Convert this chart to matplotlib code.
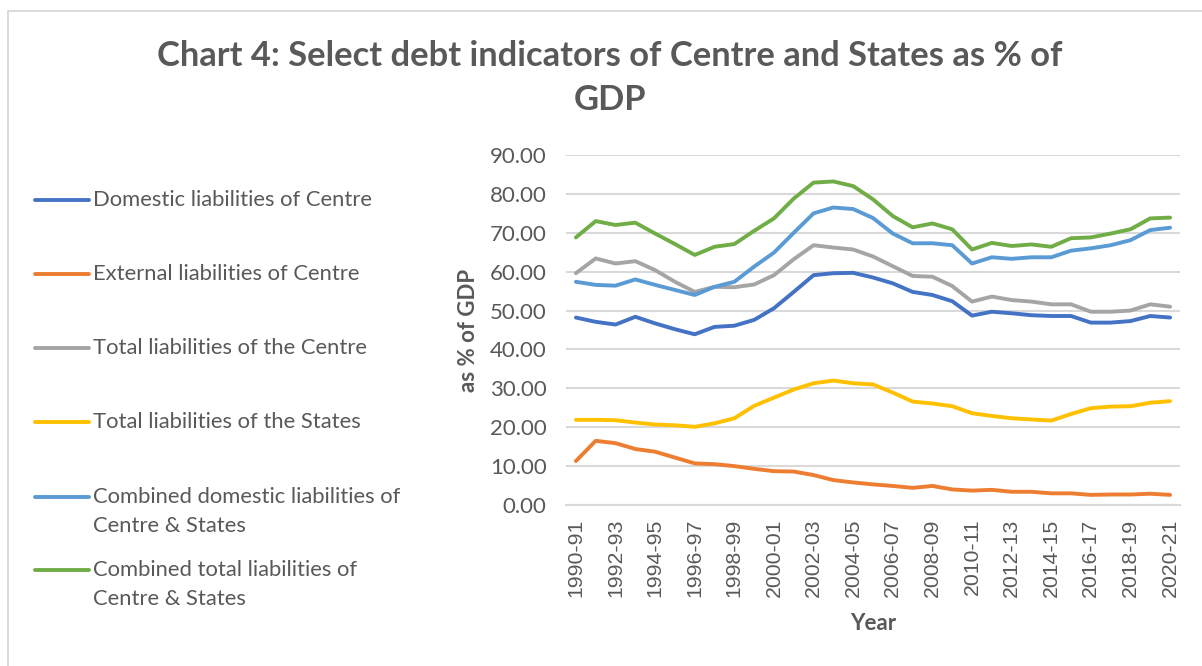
import numpy as np
import matplotlib
matplotlib.use("Agg")
import matplotlib.pyplot as plt
from matplotlib.lines import Line2D
from matplotlib.patches import Rectangle

plt.rcParams['font.family'] = ['Lato', 'DejaVu Sans']

years = [f"{y}-{str(y + 1)[-2:]}" for y in range(1990, 2021)]

domestic_centre = [48.2, 47.1, 46.4, 48.4, 46.7, 45.2, 43.9, 45.8, 46.1, 47.6,
                   50.6, 54.8, 59.1, 59.6, 59.7, 58.5, 57.0, 54.8, 54.0, 52.4,
                   48.7, 49.7, 49.3, 48.8, 48.6, 48.6, 46.9, 46.9, 47.3, 48.6, 48.2]
external_centre = [11.3, 16.5, 15.9, 14.4, 13.7, 12.2, 10.7, 10.5, 10.0, 9.3,
                   8.7, 8.6, 7.7, 6.4, 5.8, 5.3, 4.9, 4.4, 4.9, 4.0,
                   3.7, 3.9, 3.4, 3.4, 3.0, 3.0, 2.6, 2.7, 2.7, 2.9, 2.6]
total_centre = [59.6, 63.4, 62.1, 62.7, 60.4, 57.4, 54.8, 56.1, 56.0, 56.7,
                59.1, 63.2, 66.8, 66.2, 65.7, 63.9, 61.4, 58.9, 58.7, 56.3,
                52.3, 53.6, 52.7, 52.3, 51.6, 51.6, 49.7, 49.7, 50.0, 51.6, 51.0]
total_states = [21.9, 21.9, 21.8, 21.2, 20.7, 20.5, 20.1, 21.0, 22.3, 25.5,
                27.6, 29.7, 31.3, 32.0, 31.3, 31.0, 28.9, 26.6, 26.1, 25.4,
                23.6, 22.9, 22.3, 22.0, 21.7, 23.4, 24.9, 25.3, 25.4, 26.3, 26.7]
combined_domestic = [57.4, 56.6, 56.4, 58.0, 56.6, 55.3, 54.0, 56.1, 57.4, 61.3,
                     64.9, 70.0, 75.0, 76.5, 76.1, 73.8, 69.8, 67.3, 67.3, 66.8,
                     62.1, 63.7, 63.3, 63.7, 63.7, 65.4, 66.0, 66.8, 68.1, 70.7, 71.3]
combined_total = [68.8, 73.0, 72.0, 72.6, 69.8, 67.1, 64.3, 66.4, 67.1, 70.5,
                  73.7, 78.8, 82.9, 83.2, 82.0, 78.6, 74.3, 71.4, 72.4, 70.9,
                  65.7, 67.4, 66.6, 67.0, 66.4, 68.6, 68.8, 69.8, 70.9, 73.7, 73.9]

series = [
    ("Domestic liabilities of Centre", domestic_centre, "#4472C4"),
    ("External liabilities of Centre", external_centre, "#ED7D31"),
    ("Total liabilities of the Centre", total_centre, "#A5A5A5"),
    ("Total liabilities of the States", total_states, "#FFC000"),
    ("Combined domestic liabilities of\nCentre & States", combined_domestic, "#5B9BD5"),
    ("Combined total liabilities of\nCentre & States", combined_total, "#70AD47"),
]
legend_y = [200, 274, 348, 422, 497, 570]

W, H = 1202, 666
txt = "#595959"
grid = "#D9D9D9"


def fx(x):
    return x / W


def fy(y):
    return 1 - y / H


fig = plt.figure(figsize=(W / 100, H / 100), dpi=100)
fig.patches.append(Rectangle((fx(8), -0.1), 1.2, fy(11) + 0.1, transform=fig.transFigure,
                             fill=False, edgecolor=grid, linewidth=1.3))

ax = fig.add_axes([fx(566), fy(505), fx(1180) - fx(566), fy(155) - fy(505)])
x = np.arange(len(years))
for name, vals, col in series:
    ax.plot(x, vals, color=col, linewidth=2.8, solid_capstyle='round')

ax.set_xlim(-0.5, len(years) - 0.5)
ax.set_ylim(0, 90)
ax.set_yticks(np.arange(0, 91, 10))
ax.set_yticklabels([f"{v:.2f}" for v in np.arange(0, 91, 10)], fontsize=16, color=txt)
ax.set_xticks(x[::2])
ax.set_xticklabels(years[::2], rotation=90, fontsize=15.3, color=txt, family='Liberation Sans')
ax.tick_params(length=0, pad=10)
ax.tick_params(axis='y', pad=14)
ax.grid(axis='y', color=grid, linewidth=1.5)
ax.set_axisbelow(True)
for s in ['top', 'right', 'left']:
    ax.spines[s].set_visible(False)
ax.spines['bottom'].set_color(grid)
ax.spines['bottom'].set_linewidth(1.5)

ax.set_ylabel("as % of GDP", fontsize=16, fontweight='bold', color=txt, labelpad=8)
ax.set_xlabel("Year", fontsize=16, fontweight='bold', color=txt, labelpad=11)

fig.text(fx(610), fy(56), "Chart 4: Select debt indicators of Centre and States as % of",
         ha='center', va='center', fontsize=24.8, fontweight='bold', color=txt)
fig.text(fx(610), fy(100), "GDP", ha='center', va='center', fontsize=24.8,
         fontweight='bold', color=txt)

for (name, vals, col), ly in zip(series, legend_y):
    fig.add_artist(Line2D([fx(35), fx(89)], [fy(ly), fy(ly)], transform=fig.transFigure,
                          color=col, linewidth=2.8, solid_capstyle='round'))
    for k, line in enumerate(name.split("\n")):
        fig.text(fx(93), fy(ly + 29 * k), line, ha='left', va='center', fontsize=15.8, color=txt)

fig.savefig("out.png", dpi=100)
